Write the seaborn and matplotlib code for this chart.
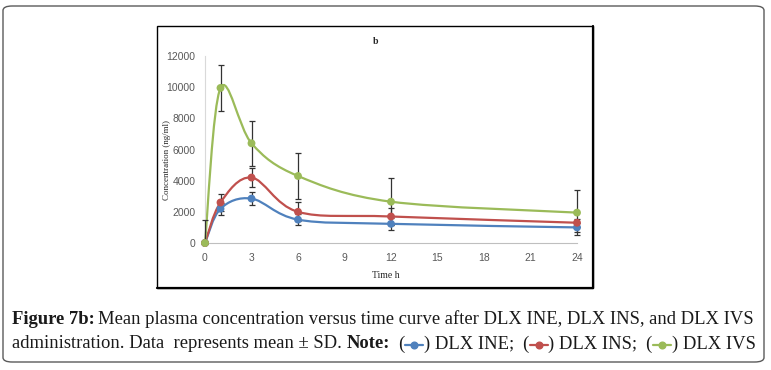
import numpy as np
import pandas as pd
import matplotlib
matplotlib.use("Agg")
import matplotlib.pyplot as plt
import seaborn as sns
from matplotlib.path import Path
from matplotlib.patches import PathPatch, FancyBboxPatch, Rectangle
from matplotlib.lines import Line2D

# data
time_h = [0, 1, 3, 6, 12, 24]
ine_mean = [0, 2200, 2850, 1500, 1230, 1000]
ine_sd = [0, 380, 420, 350, 400, 300]
ins_mean = [0, 2600, 4200, 2000, 1700, 1300]
ins_sd = [0, 550, 600, 600, 550, 250]
ivs_mean = [0, 9950, 6400, 4300, 2650, 1950]
ivs_sd = [1450, 1450, 1450, 1480, 1500, 1450]
groups = ["DLX INE", "DLX INS", "DLX IVS"]
colors = ["#4F81BD", "#C0504D", "#9BBB59"]
x_ticks = [0, 3, 6, 9, 12, 15, 18, 21, 24]
y_ticks = [0, 2000, 4000, 6000, 8000, 10000, 12000]

W, H = 771, 370
df = pd.DataFrame({
    "time": time_h * 3,
    "conc": ine_mean + ins_mean + ivs_mean,
    "sd": ine_sd + ins_sd + ivs_sd,
    "group": [g for g in groups for _ in time_h],
})


def smooth_path(x, y):
    # excel style smoothed line (bezier through the points)
    pts = np.column_stack([x, y]).astype(float)
    n = len(pts)
    verts, codes = [pts[0]], [Path.MOVETO]
    for i in range(n - 1):
        p0 = pts[i - 1] if i > 0 else pts[i]
        p3 = pts[i + 2] if i + 2 < n else pts[i + 1]
        verts += [pts[i] + (pts[i + 1] - p0) / 6, pts[i + 1] - (p3 - pts[i]) / 6, pts[i + 1]]
        codes += [Path.CURVE4] * 3
    return Path(verts, codes)


sns.set_style("white")
fig = plt.figure(figsize=(W / 100, H / 100), dpi=100)

# outer rounded frame and inner chart frame
fig.patches.append(FancyBboxPatch((3 / W, 8 / H), 761 / W, 356 / H, boxstyle="round,pad=0,rounding_size=0.012",
                                  transform=fig.transFigure, fill=False, ec="#5a5a5a", lw=1.0))
fig.patches.append(Rectangle((157 / W, (H - 288) / H), 436 / W, 262 / H, transform=fig.transFigure,
                             fill=False, ec="black", lw=1.0))
fig.add_artist(Line2D([593 / W, 593 / W], [(H - 288) / H, (H - 26) / H], transform=fig.transFigure,
                      color="black", lw=1.6))
fig.add_artist(Line2D([157 / W, 593 / W], [(H - 288) / H, (H - 288) / H], transform=fig.transFigure,
                      color="black", lw=1.6))

ax = fig.add_axes([205 / W, (H - 243) / H, 372 / W, 187 / H])

for g, c in zip(groups, colors):
    d = df[df["group"] == g]
    ax.add_patch(PathPatch(smooth_path(d["time"], d["conc"]), fill=False, ec=c, lw=1.6, zorder=2,
                           clip_on=False))
for g, c in zip(groups, colors):
    d = df[df["group"] == g]
    lower = np.minimum(d["sd"], d["conc"])  # bars stop at the axis
    ax.errorbar(d["time"], d["conc"], yerr=[lower, d["sd"]], fmt="none", ecolor="#333333",
                elinewidth=0.9, capsize=2, capthick=0.9, zorder=3, clip_on=False)

sns.scatterplot(data=df, x="time", y="conc", hue="group", palette=colors, s=32, linewidth=0,
                legend=False, ax=ax, zorder=4, clip_on=False)

ax.set_xlim(0, 24)
ax.set_ylim(0, 12000)
ax.set_xticks(x_ticks)
ax.set_yticks(y_ticks)
ax.set_xlabel("")
ax.set_ylabel("")
for s in ["top", "right"]:
    ax.spines[s].set_visible(False)
ax.spines["left"].set_color("#d9d9d9")
ax.spines["bottom"].set_color("#bfbfbf")
ax.spines["left"].set_linewidth(0.8)
ax.spines["bottom"].set_linewidth(0.8)
ax.tick_params(length=0, labelsize=7.5, labelcolor="#595959", pad=7)
for lab in ax.get_xticklabels() + ax.get_yticklabels():
    lab.set_family("Liberation Sans")

fig.text(376 / W, (H - 42) / H, "b", ha="center", va="center", family="Liberation Serif",
         weight="bold", fontsize=7)
fig.text(386 / W, (H - 276) / H, "Time h", ha="center", va="center", family="Liberation Serif",
         fontsize=7)
fig.text(167 / W, (H - 160) / H, "Concentration (ng/ml)", ha="center", va="center", rotation=90,
         family="Liberation Serif", fontsize=6.5)

# caption, built piece by piece
renderer = fig.canvas.get_renderer()
fs = 13.4


def put(x, y, s, bold=False):
    t = fig.text(x / W, (H - y) / H, s, ha="left", va="center", family="Liberation Serif",
                 weight="bold" if bold else "normal", fontsize=fs, color="#1a1a1a")
    return t.get_window_extent(renderer).x1 * 100 / fig.dpi


def sym(x, y, c):
    fig.add_artist(Line2D([x / W, (x + 18) / W], [(H - y) / H, (H - y) / H], transform=fig.transFigure,
                          color=c, lw=1.6))
    fig.add_artist(Line2D([(x + 9) / W], [(H - y) / H], transform=fig.transFigure, color=c,
                          marker="o", ms=4.8, lw=0))
    return x + 19


x = put(12, 319, "Figure 7b:", bold=True)
put(x + 3, 319, "Mean plasma concentration versus time curve after DLX INE, DLX INS, and DLX IVS")
x = put(12, 344, "administration. Data  represents mean \u00b1 SD. ")
x = put(x, 344, "Note:", bold=True)
for i, (g, c) in enumerate(zip(groups, colors)):
    x = put(x + 8, 344, "(")
    x = sym(x + 1, 345, c)
    x = put(x, 344, ") " + g + (";" if i < 2 else ""))

fig.savefig("out.png", dpi=100)
